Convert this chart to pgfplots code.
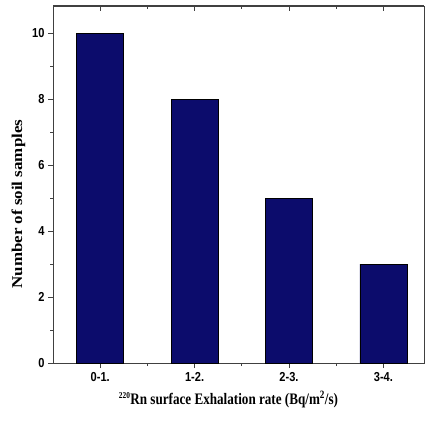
\documentclass[border=0pt]{standalone}
\usepackage{pgfplots}
\pgfplotsset{compat=1.18}
\usepackage{graphicx}
\usepackage{fontspec}
\setmainfont{Liberation Serif}
\setsansfont{Liberation Sans}
\definecolor{barnavy}{RGB}{12,12,108}
\begin{document}
\begin{tikzpicture}[x=1pt,y=1pt]
\useasboundingbox (-53,-58) rectangle (372,363);
\begin{axis}[
  at={(0,0)}, anchor=south west,
  scale only axis, width=371pt, height=357pt,
  xmin=-0.5, xmax=3.43, ymin=0, ymax=10.82,
  xtick={0,1,2,3},
  xticklabels={\scalebox{0.85}[1]{0-1.},\scalebox{0.85}[1]{1-2.},\scalebox{0.85}[1]{2-3.},\scalebox{0.85}[1]{3-4.}},
  minor xtick={0.5,1.5,2.5},
  ytick={0,2,4,6,8,10}, minor ytick={1,3,5,7,9},
  xtick pos=bottom, ytick pos=left,
  tick align=outside,
  major tick length=5pt, minor tick length=3pt,
  axis line style={line width=1pt, black!75},
  every tick/.style={black!75, line width=0.8pt},
  tick label style={font=\sffamily\bfseries\fontsize{13}{14}\selectfont},
  /pgf/number format/assume math mode=true,
  xticklabel style={yshift=-1pt},
  yticklabel={\scalebox{0.85}[1]{\pgfmathprintnumber{\tick}}},
  xlabel={\scalebox{0.82}[1]{\textbf{\textsuperscript{\fontsize{9}{9}\selectfont 220}Rn surface Exhalation rate (Bq/m\textsuperscript{2}/s)}}},
  ylabel={\scalebox{1.13}[1]{\textbf{Number of soil samples}}},
  xlabel style={font=\fontsize{16}{18}\selectfont, yshift=-2pt, xshift=-10pt},
  ylabel style={font=\fontsize{15}{17}\selectfont, at={(ticklabel cs:0.445)}},
  clip=false,
]
\addplot[ybar, bar width=47pt, fill=barnavy, draw=black, line width=0.8pt]
  coordinates {(0,10) (1,8) (2,5) (3,3)};
\end{axis}
\begin{axis}[
  at={(0,0)}, anchor=south west,
  scale only axis, width=371pt, height=357pt,
  xmin=-0.5, xmax=3.43, ymin=0, ymax=10.82,
  axis x line*=top, axis y line=none,
  xtick={0,1,2,3}, minor xtick={0.5,1.5,2.5},
  xticklabels={}, tick align=inside,
  major tick length=5pt, minor tick length=3pt,
  axis line style={line width=1pt, black!75},
  every tick/.style={black!75, line width=0.8pt},
]
\end{axis}
\end{tikzpicture}
\end{document}
